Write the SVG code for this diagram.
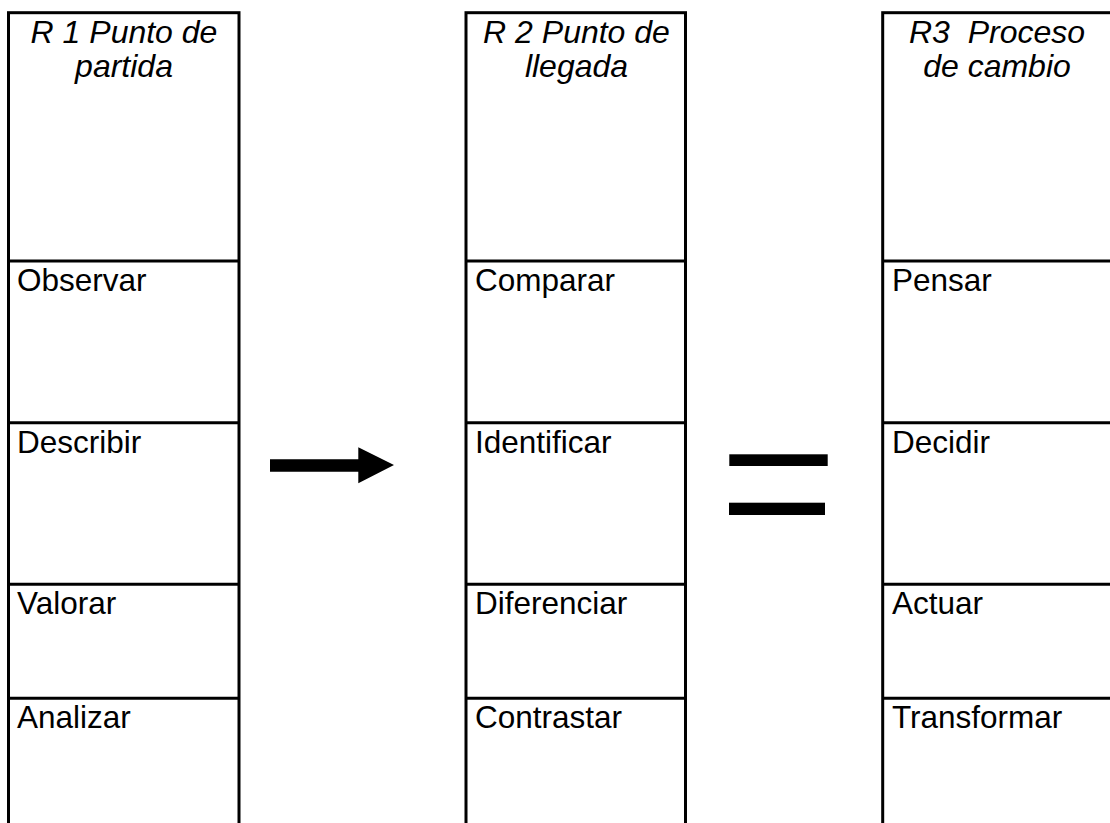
<svg xmlns="http://www.w3.org/2000/svg" width="1110" height="823" viewBox="0 0 1110 823">
<style>
.box{fill:none;stroke:#000;stroke-width:3}
.div{stroke:#000;stroke-width:3}
.t{font-family:"Liberation Sans",Arial,sans-serif;font-size:31.5px;fill:#000}
.h{font-family:"Liberation Sans",Arial,sans-serif;font-size:32px;font-style:italic;fill:#000;text-anchor:middle}
</style>
<rect width="1110" height="823" fill="#fff"/>
<g id="col1">
<rect class="box" x="8.5" y="12.7" width="230.5" height="830"/>
<line class="div" x1="8.5" y1="261" x2="239" y2="261"/>
<line class="div" x1="8.5" y1="422.7" x2="239" y2="422.7"/>
<line class="div" x1="8.5" y1="584.3" x2="239" y2="584.3"/>
<line class="div" x1="8.5" y1="698.3" x2="239" y2="698.3"/>
<text class="h" x="124" y="42.5">R 1 Punto de</text>
<text class="h" x="124" y="77">partida</text>
<text class="t" x="17" y="291">Observar</text>
<text class="t" x="17" y="452.7">Describir</text>
<text class="t" x="17" y="614.3">Valorar</text>
<text class="t" x="17" y="727.5">Analizar</text>
</g>
<g id="col2">
<rect class="box" x="466" y="12.7" width="219.5" height="830"/>
<line class="div" x1="466" y1="261" x2="685.5" y2="261"/>
<line class="div" x1="466" y1="422.7" x2="685.5" y2="422.7"/>
<line class="div" x1="466" y1="584.3" x2="685.5" y2="584.3"/>
<line class="div" x1="466" y1="698.3" x2="685.5" y2="698.3"/>
<text class="h" x="576.5" y="42.5">R 2 Punto de</text>
<text class="h" x="576.5" y="77">llegada</text>
<text class="t" x="475" y="291">Comparar</text>
<text class="t" x="475" y="452.7">Identificar</text>
<text class="t" x="475" y="614.3">Diferenciar</text>
<text class="t" x="475" y="727.5">Contrastar</text>
</g>
<g id="col3">
<rect class="box" x="882.7" y="12.7" width="229" height="830"/>
<line class="div" x1="882.7" y1="261" x2="1112" y2="261"/>
<line class="div" x1="882.7" y1="422.7" x2="1112" y2="422.7"/>
<line class="div" x1="882.7" y1="584.3" x2="1112" y2="584.3"/>
<line class="div" x1="882.7" y1="698.3" x2="1112" y2="698.3"/>
<text class="h" x="997" y="42.5" xml:space="preserve">R3  Proceso</text>
<text class="h" x="997" y="77">de cambio</text>
<text class="t" x="892" y="291">Pensar</text>
<text class="t" x="892" y="452.7">Decidir</text>
<text class="t" x="892" y="614.3">Actuar</text>
<text class="t" x="892" y="727.5">Transformar</text>
</g>
<g id="connectors">
<polygon points="270,459.3 358.3,459.3 358.3,447.3 394,465 358.3,483.3 358.3,471.7 270,471.7" fill="#000"/>
<rect x="729.3" y="454.3" width="98.4" height="11.7" fill="#000"/>
<rect x="729" y="502.7" width="96" height="12.3" fill="#000"/>
</g>
</svg>
